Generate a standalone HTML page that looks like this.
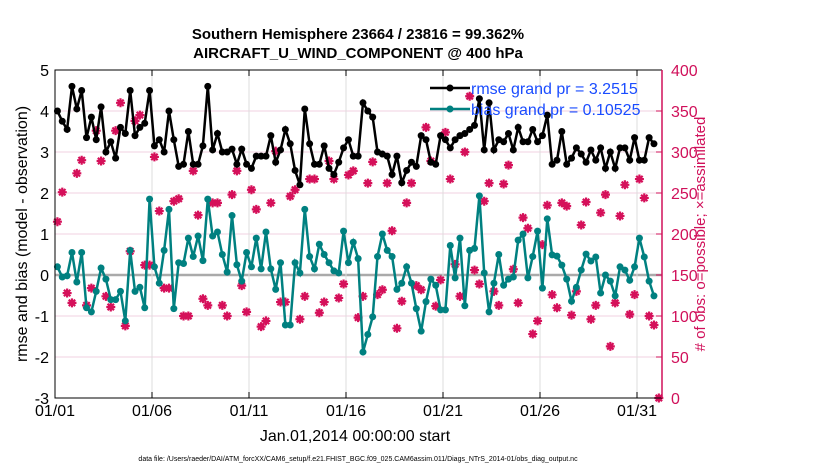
<!DOCTYPE html>
<html><head><meta charset="utf-8"><style>
body{margin:0;background:#fff;}
svg{display:block;font-family:"Liberation Sans",sans-serif;}
</style></head><body>
<svg id="chart" width="830" height="470">
<text x="358" y="39" text-anchor="middle" font-size="15" font-weight="bold">Southern Hemisphere 23664 / 23816 = 99.362%</text>
<text x="358" y="58" text-anchor="middle" font-size="15" font-weight="bold">AIRCRAFT_U_WIND_COMPONENT @ 400 hPa</text>
<g id="grid"></g>
<g id="marks"></g>
<g id="axes"></g>
<text transform="translate(27,234) rotate(-90)" text-anchor="middle" font-size="16">rmse and bias (model - observation)</text>
<text transform="translate(705,234) rotate(-90)" text-anchor="middle" font-size="15" fill="#d0105a"># of obs: o=possible; ×=assimilated</text>
<text x="355" y="441" text-anchor="middle" font-size="16">Jan.01,2014 00:00:00 start</text>
<text x="358" y="461" text-anchor="middle" font-size="7">data file: /Users/raeder/DAI/ATM_forcXX/CAM6_setup/f.e21.FHIST_BGC.f09_025.CAM6assim.011/Diags_NTrS_2014-01/obs_diag_output.nc</text>
<g>
<line x1="430" y1="88" x2="470" y2="88" stroke="#000" stroke-width="2.5"/><circle cx="450" cy="88" r="3.5" fill="#000"/>
<text x="471" y="94" font-size="16" fill="#1a4cff">rmse grand pr = 3.2515</text>
<line x1="430" y1="109" x2="470" y2="109" stroke="#008080" stroke-width="2.5"/><circle cx="450" cy="109" r="3.5" fill="#008080"/>
<text x="471" y="115" font-size="16" fill="#1a4cff">bias grand pr = 0.10525</text>
</g>
</svg>
<script>
const xTickLabels = ["01/01","01/06","01/11","01/16","01/21","01/26","01/31"];
const xTickDays = [0,5,10,15,20,25,30];
const leftTicks = [-3,-2,-1,0,1,2,3,4,5];
const rightTicks = [0,50,100,150,200,250,300,350,400];
const rmse = [4.0,3.75,3.55,4.6,4.05,4.5,3.35,3.85,3.3,4.1,3.0,3.25,2.85,3.6,3.45,4.5,3.4,3.6,3.7,4.5,3.15,3.3,3.0,4.0,3.3,
2.65,2.7,3.5,2.7,2.7,3.15,4.6,3.05,3.45,3.0,3.0,3.07,2.7,3.07,2.7,2.6,2.9,2.9,2.9,3.4,2.75,3.05,3.55,3.2,2.55,
2.2,4.05,3.2,2.7,2.7,3.15,2.6,2.45,2.75,3.1,3.3,2.9,2.9,4.2,4.0,3.85,3.0,2.95,2.9,2.45,2.9,2.25,2.55,2.75,2.65,
3.4,3.3,2.75,2.7,3.4,3.3,3.1,3.3,3.4,3.45,3.55,3.65,4.3,3.05,4.2,3.05,3.3,3.25,3.45,3.05,3.6,3.25,3.25,3.55,3.25,
3.4,3.9,2.7,2.8,3.5,2.7,2.85,3.1,2.95,2.75,3.05,2.8,3.1,2.6,3.0,2.6,3.1,3.1,2.8,3.35,2.8,2.8,3.35,3.2];
const bias = [0.2,-0.05,-0.02,0.55,-0.17,0.55,-0.8,-0.9,-0.4,0.17,-0.1,-0.6,-0.6,-0.4,-1.12,0.6,-0.4,-0.3,-0.8,1.85,0.2,-0.2,0.6,1.6,-0.82,
0.3,0.28,0.9,0.45,0.95,0.35,1.85,0.95,1.05,0.5,0.07,1.45,0.25,-0.15,0.55,0.2,0.9,0.15,1.05,0.15,-0.35,0.3,-1.22,-1.22,0.3,
0.05,1.6,0.45,0.15,0.75,0.5,0.3,0.1,0.05,1.07,0.3,0.8,0.4,-1.88,-1.45,-1.02,0.45,1.0,0.6,0.45,-0.35,-0.2,0.2,-0.2,-0.82,
-1.37,-0.65,-0.1,-0.25,-0.85,-0.85,0.72,-0.07,0.9,-0.75,0.6,0.65,1.93,0.05,-0.9,-0.2,0.5,-0.25,-0.1,-0.05,0.85,1.0,-0.07,0.45,1.07,
-0.32,1.37,0.49,0.46,0.24,-0.1,-0.64,-0.3,0.12,0.51,0.34,0.44,-0.44,0,-0.15,-0.51,0.2,0.12,-0.13,0.2,0.9,0.44,-0.15,-0.51];
const obsCount = [215,251,128,116,274,290,113,134,326,289,124,111,326,360,88,179,338,345,162,162,294,228,134,134,240,
243,100,100,277,223,121,113,238,238,113,100,248,277,137,105,254,230,87,94,238,301,117,117,246,254,
96,124,267,267,104,117,289,267,122,139,272,277,98,124,262,288,126,132,262,204,85,118,238,262,137,
132,330,289,112,144,324,267,163,124,300,368,156,139,240,262,130,113,261,284,157,116,220,207,78,94,
187,235,126,110,238,234,101,130,211,239,96,113,226,248,63,116,222,260,102,126,267,244,100,89,0];

const X0=55, DAY=19.4, YT=70, YB=398;
const xOf = t => X0 + t*DAY;
const tOf = i => 0.125 + 0.25*i;
const yL = v => YB - (v+3)/8*(YB-YT);
const yR = c => YB - c/400*(YB-YT);
const NS="http://www.w3.org/2000/svg";
function mk(tag, attrs, parent){const e=document.createElementNS(NS,tag);for(const k in attrs)e.setAttribute(k,attrs[k]);parent.appendChild(e);return e;}
const grid=document.getElementById('grid'), marks=document.getElementById('marks'), axes=document.getElementById('axes');
const XR=662;
leftTicks.forEach(v=>{
  const l=mk('line',{x1:X0,x2:XR,y1:yL(v),y2:yL(v),stroke:v===0?'#aaa':'#f2d0e0','stroke-width':v===0?2.5:1},grid);
  
  
  const t=mk('text',{x:X0-6,y:yL(v)+6,'text-anchor':'end','font-size':16},axes);t.textContent=v;
  
  
});
xTickDays.forEach((d,i)=>{
  const l=mk('line',{x1:xOf(d),x2:xOf(d),y1:YT,y2:YB,stroke:'#ddd','stroke-width':1},grid);
  
  
  mk('line',{x1:xOf(d),x2:xOf(d),y1:YB,y2:YB-6,stroke:'#000'},axes);
  mk('line',{x1:xOf(d),x2:xOf(d),y1:YT,y2:YT+6,stroke:'#000'},axes);
  const t=mk('text',{x:xOf(d),y:416,'text-anchor':'middle','font-size':16},axes);t.textContent=xTickLabels[i];
  
  
});
rightTicks.forEach(c=>{
  mk('line',{x1:XR,x2:XR-6,y1:yR(c),y2:yR(c),stroke:'#d0105a'},axes);
  const t=mk('text',{x:XR+9,y:yR(c)+6,'font-size':16,fill:'#d0105a'},axes);t.textContent=c;
  
  
});
const frame=mk('path',{d:`M${XR},${YT}H${X0}V${YB}H${XR}`,fill:'none',stroke:'#000','stroke-width':1},axes);


const ra=mk('line',{x1:XR,x2:XR,y1:YT,y2:YB,stroke:'#d0105a','stroke-width':1.5},axes);



obsCount.forEach((c,i)=>{
  const x=xOf(tOf(i)), y=yR(c);
  const g=mk('g',{stroke:'#d5105a','stroke-width':2.2,fill:'#d5105a'},marks);
  
  
  mk('path',{d:`M${x-4.5},${y}H${x+4.5}M${x},${y-4.5}V${y+4.5}M${x-3.2},${y-3.2}L${x+3.2},${y+3.2}M${x-3.2},${y+3.2}L${x+3.2},${y-3.2}`},g);
  mk('circle',{cx:x,cy:y,r:2.6,stroke:'none'},g);
});
function series(vals,color,name){
  const pts=vals.map((v,i)=>xOf(tOf(i)).toFixed(1)+','+yL(v).toFixed(1)).join(' ');
  const pl=mk('polyline',{points:pts,fill:'none',stroke:color,'stroke-width':2.5},marks);
  
  
  vals.forEach((v,i)=>{
    const c=mk('circle',{cx:xOf(tOf(i)),cy:yL(v),r:3.5,fill:color},marks);
    
    
  });
}
series(bias,'#008080','bias');
series(rmse,'#000','rmse');
</script>
</body></html>
